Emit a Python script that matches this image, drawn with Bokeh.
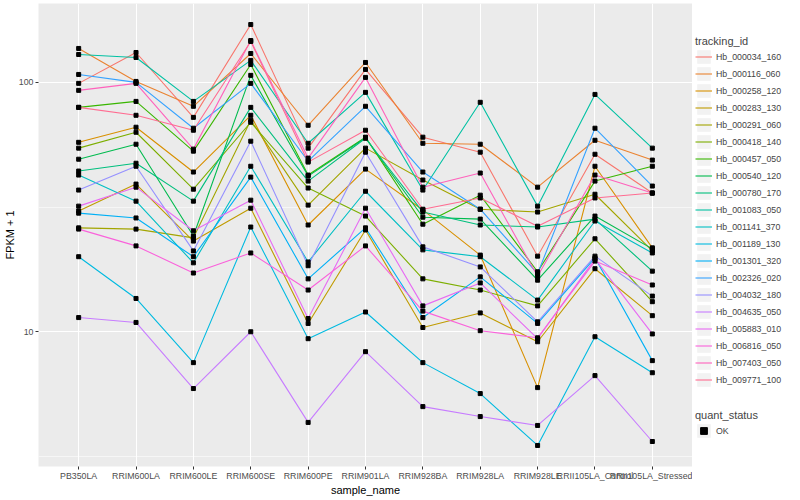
import math
from bokeh.plotting import figure
from bokeh.models import FactorRange, Range1d, FixedTicker, Legend, LegendItem
from bokeh.layouts import row
from bokeh.embed import file_html
from bokeh.resources import INLINE

samples = ["PB350LA", "RRIM600LA", "RRIM600LE", "RRIM600SE", "RRIM600PE", "RRIM901LA",
           "RRIM928BA", "RRIM928LA", "RRIM928LE", "RRII105LA_Control", "RRII105LA_Stressed"]

tracking_ids = ["Hb_000034_160", "Hb_000116_060", "Hb_000258_120", "Hb_000283_130", "Hb_000291_060",
                "Hb_000418_140", "Hb_000457_050", "Hb_000540_120", "Hb_000780_170", "Hb_001083_050",
                "Hb_001141_370", "Hb_001189_130", "Hb_001301_320", "Hb_002326_020", "Hb_004032_180",
                "Hb_004635_050", "Hb_005883_010", "Hb_006816_050", "Hb_007403_050", "Hb_009771_100"]

colors = ["#F8766D", "#EA8331", "#D89000", "#C09B00", "#A3A500", "#7CAE00", "#39B600", "#00BB4E",
          "#00BF7D", "#00C1A3", "#00BFC4", "#00BAE0", "#00B0F6", "#35A2FF", "#9590FF", "#C77CFF",
          "#E76BF3", "#FA62DB", "#FF62BC", "#FF6C91"]

# FPKM + 1 per sample
hb_000034_160 = [99.1, 131.8, 72.4, 170.6, 54.5, 112.7, 60.3, 52.5, 20.1, 51.5, 36.0]
hb_000116_060 = [136.8, 100.9, 80.2, 130.6, 67.3, 120.2, 57.0, 56.5, 38.0, 58.6, 48.8]
hb_000258_120 = [57.5, 66.1, 43.7, 73.8, 26.8, 44.9, 30.8, 20.3, 5.97, 46.1, 21.7]
hb_000283_130 = [30.5, 39.1, 23.1, 31.3, 10.8, 25.6, 10.4, 11.9, 9.12, 17.9, 11.6]
hb_000291_060 = [26.1, 25.8, 23.8, 70.5, 32.2, 54.5, 40.6, 31.0, 30.2, 35.6, 21.1]
hb_000418_140 = [54.5, 63.1, 37.3, 69.2, 37.7, 29.1, 16.3, 14.7, 12.7, 23.6, 13.2]
hb_000457_050 = [79.4, 83.9, 53.0, 118.0, 42.5, 60.3, 27.0, 35.3, 17.4, 40.2, 46.1]
hb_000540_120 = [49.2, 56.5, 24.2, 106.7, 42.1, 60.0, 28.8, 28.3, 16.1, 29.1, 21.5]
hb_000780_170 = [44.1, 47.4, 33.4, 79.4, 40.2, 59.7, 30.2, 26.8, 26.3, 28.3, 17.5]
hb_001083_050 = [129.4, 125.9, 83.9, 122.5, 57.0, 91.2, 37.0, 83.2, 31.9, 89.5, 54.5]
hb_001141_370 = [42.5, 33.4, 18.9, 46.1, 19.05, 36.6, 21.3, 20.0, 13.4, 27.8, 20.7]
hb_001189_130 = [20.0, 13.6, 7.52, 26.3, 9.38, 12.0, 7.52, 5.65, 3.50, 9.55, 6.85]
hb_001301_320 = [29.9, 28.6, 20.0, 41.7, 16.3, 26.1, 11.4, 16.6, 10.8, 19.8, 7.66]
hb_002326_020 = [107.6, 100.0, 65.5, 99.1, 48.3, 80.2, 43.7, 31.0, 17.1, 65.5, 38.4]
hb_004032_180 = [37.0, 46.1, 21.1, 58.1, 18.4, 52.5, 21.9, 18.2, 10.96, 20.1, 13.9]
hb_004635_050 = [11.4, 10.9, 5.92, 10.0, 4.33, 8.32, 5.01, 4.57, 4.21, 6.67, 3.63]
hb_005883_010 = [31.9, 38.0, 25.4, 33.7, 11.3, 31.3, 12.7, 15.7, 9.38, 19.6, 9.8]
hb_006816_050 = [25.8, 22.1, 17.2, 20.7, 14.7, 22.1, 12.1, 10.1, 9.46, 19.2, 15.4]
hb_007403_050 = [92.9, 99.1, 54.0, 147.2, 49.7, 104.7, 38.0, 43.3, 16.7, 42.5, 36.0]
hb_009771_100 = [79.4, 73.8, 64.3, 145.9, 47.9, 64.3, 31.0, 34.4, 26.5, 34.4, 36.0]

series = [hb_000034_160, hb_000116_060, hb_000258_120, hb_000283_130, hb_000291_060,
          hb_000418_140, hb_000457_050, hb_000540_120, hb_000780_170, hb_001083_050,
          hb_001141_370, hb_001189_130, hb_001301_320, hb_002326_020, hb_004032_180,
          hb_004635_050, hb_005883_010, hb_006816_050, hb_007403_050, hb_009771_100]

FONT = "Liberation Sans"

all_vals = [v for s in series for v in s]
lo = math.log10(min(all_vals))
hi = math.log10(max(all_vals))
pad = 0.05 * (hi - lo)

p = figure(width=692, height=498,
           x_range=FactorRange(factors=samples, range_padding=0.2, range_padding_units="absolute"),
           y_axis_type="log", y_range=Range1d(10 ** (lo - pad), 10 ** (hi + pad)),
           output_backend="svg", toolbar_location=None,
           min_border_left=28, min_border_right=0, min_border_top=3, min_border_bottom=20)

p.background_fill_color = "#EBEBEB"
p.border_fill_color = "white"
p.outline_line_color = None

yt = FixedTicker(ticks=[10, 100], minor_ticks=[10 ** 0.5, 10 ** 1.5, 10 ** 2.5])
p.yaxis.ticker = yt
p.ygrid.ticker = yt
p.yaxis.major_label_overrides = {10: "10", 100: "100"}
p.ygrid.grid_line_color = "white"
p.ygrid.grid_line_width = 1.1
p.ygrid.minor_grid_line_color = "white"
p.ygrid.minor_grid_line_width = 0.55
p.xgrid.grid_line_color = "white"
p.xgrid.grid_line_width = 1.1

for ax in (p.xaxis, p.yaxis):
    ax.axis_line_color = None
    ax.major_tick_line_color = "#333333"
    ax.major_tick_line_width = 1
    ax.major_tick_out = 3
    ax.major_tick_in = 0
    ax.minor_tick_line_color = None
    ax.major_label_text_font = FONT
    ax.major_label_text_font_size = "8.8px"
    ax.major_label_text_color = "#4D4D4D"
    ax.major_label_standoff = 1
    ax.axis_label_text_font = FONT
    ax.axis_label_text_font_size = "11px"
    ax.axis_label_text_font_style = "normal"
    ax.axis_label_text_color = "black"
    ax.axis_label_standoff = 0

p.xaxis.axis_label = "sample_name"
p.yaxis.axis_label = "FPKM + 1"

for vals, c in zip(series, colors):
    p.line(x=samples, y=vals, line_color=c, line_width=1.1)
for vals in series:
    p.scatter(x=samples, y=vals, marker="square", size=4, color="black")

# legend panel
leg = figure(width=92, height=498, x_range=Range1d(0, 1), y_range=Range1d(0, 1),
             output_backend="svg", toolbar_location=None,
             x_axis_location=None, y_axis_location=None,
             min_border_left=0, min_border_right=0, min_border_top=0, min_border_bottom=0)
leg.grid.visible = False
leg.outline_line_color = None
leg.background_fill_color = "white"

OFF_X = [-10, -9]
OFF_Y = [-10, -10]

items = []
for tid, c in zip(tracking_ids, colors):
    bg = leg.rect(x=OFF_X, y=OFF_Y, width=1, height=1, fill_color="#F2F2F2", line_color=None)
    ln = leg.line(x=OFF_X, y=OFF_Y, line_color=c, line_width=1.1)
    items.append(LegendItem(label=tid, renderers=[bg, ln]))

bg2 = leg.rect(x=OFF_X, y=OFF_Y, width=1, height=1, fill_color="#F2F2F2", line_color=None)
pt2 = leg.scatter(x=OFF_X, y=OFF_Y, marker="square", size=4, color="black")
items2 = [LegendItem(label="OK", renderers=[bg2, pt2])]

common = dict(orientation="vertical", glyph_width=17, glyph_height=17, label_height=17,
              spacing=0, padding=0, margin=0, border_line_color=None,
              background_fill_alpha=0, label_text_font=FONT, label_text_font_size="8.8px",
              label_standoff=4, title_text_font=FONT, title_text_font_size="11px",
              title_text_font_style="normal", title_standoff=1)

legend1 = Legend(items=items, title="tracking_id", location=(3, 78), **common)
legend2 = Legend(items=items2, title="quant_status", location=(3, 27), **common)
leg.add_layout(legend1)
leg.add_layout(legend2)

layout = row(p, leg)
open("out.html", "w").write(file_html(layout, INLINE))
